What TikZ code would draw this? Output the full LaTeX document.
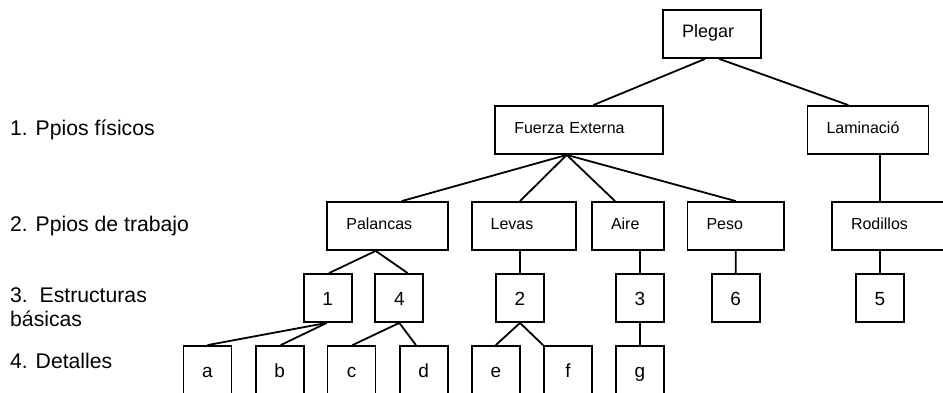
\documentclass[tikz,border=0pt]{standalone}
\usepackage{fontspec}
\setmainfont{Liberation Sans}
\usepackage{tikz}

\begin{document}
\begin{tikzpicture}[x=1pt,y=-1pt]
	\useasboundingbox (0,0) rectangle (943,392);
	\clip (0,0) rectangle (943,392);
	
	% levels on the left
	\begin{scope}[every node/.style={anchor=base west,inner sep=0pt,font=\fontsize{21.2}{23.5}\selectfont}]
		\node (nivel1) at (10,135) {1. Ppios físicos};
		\node (nivel2) at (10,231.7) {2. Ppios de trabajo};
		\node (nivel3) [anchor=north west,align=left] at (10,287.8) {3.\ \ Estructuras\\básicas};
		\node (nivel4) at (10,368.3) {4. Detalles};
	\end{scope}
	
	\begin{scope}[every node/.style={rectangle,draw,line width=1.8pt,minimum height=48pt,
			inner xsep=19pt,inner ysep=0pt,align=left,text height=11pt,text depth=5pt,
			font=\fontsize{16}{18}\selectfont}]
		\node (plegar) [text width=60pt,font=\fontsize{18}{20}\selectfont] at (712,34) {Plegar};
		\node (fuerza) [text width=130pt] at (579.3,130) {Fuerza Externa};
		\node (lamin) [text width=83pt] at (868,130) {Laminació};
		\node (palancas) [text width=82.7pt] at (387.7,226) {Palancas};
		\node (levas) [text width=66.3pt] at (523.8,226) {Levas};
		\node (aire) [text width=34pt] at (628,226) {Aire};
		\node (peso) [text width=58.5pt] at (735.8,226) {Peso};
		\node (rodillos) [text width=86pt] at (894,226) {Rodillos};
	\end{scope}
	
	\begin{scope}[every node/.style={rectangle,draw,line width=1.8pt,minimum width=48pt,
			minimum height=48pt,inner sep=0pt,text height=14pt,text depth=0pt,
			font=\fontsize{19}{21}\selectfont}]
		\node (e1) at (327.7,298) {1};
		\node (e4) at (399.3,298) {4};
		\node (e2) at (520,298) {2};
		\node (e3) at (640,298) {3};
		\node (e6) at (735.7,298) {6};
		\node (e5) at (880,298) {5};
		
		\node (da) at (207.5,370) {a};
		\node (db) at (279.7,370) {b};
		\node (dc) at (351.5,370) {c};
		\node (dd) at (423.7,370) {d};
		\node (de) at (495.8,370) {e};
		\node (df) at (568,370) {f};
		\node (dg) at (640,370) {g};
	\end{scope}
	
	\begin{scope}[every edge/.style={draw,line width=1.8pt}]
		\path ([xshift=-7pt]plegar.south) edge ([xshift=14pt]fuerza.north);
		\path ([xshift=7.3pt]plegar.south) edge ([xshift=-19.7pt]lamin.north);
		
		\path ([xshift=-12.6pt]fuerza.south) edge ([xshift=14pt]palancas.north);
		\path ([xshift=-12.6pt]fuerza.south) edge ([xshift=-3.8pt]levas.north);
		\path ([xshift=-12.6pt]fuerza.south) edge ([xshift=-13pt]aire.north);
		\path ([xshift=-12.6pt]fuerza.south) edge (peso.north);
		\path ([xshift=12pt]lamin.south) edge ([xshift=-14pt]rodillos.north);
		
		\path ([xshift=-12pt]palancas.south) edge ([xshift=1.3pt]e1.north);
		\path ([xshift=-12pt]palancas.south) edge ([xshift=8.4pt]e4.north);
		\path ([xshift=-3.8pt]levas.south) edge (e2.north);
		\path ([xshift=12pt]aire.south) edge (e3.north);
		\path (peso.south) edge (e6.north);
		\path ([xshift=-14pt]rodillos.south) edge (e5.north);
		
		\path ([xshift=-1pt]e1.south) edge (da.north);%a%
		\path ([xshift=-1pt]e1.south) edge ([xshift=1pt]db.north);%b%
		\path (e4.south) edge ([xshift=1pt]dc.north);%c%
		\path (e4.south) edge ([xshift=-7.7pt]dd.north);%d%
		\path (e2.south) edge (de.north);%e%
		\path (e2.south) edge (df.north west);%f%
		\path (e3.south) edge (dg.north);%g%
	\end{scope}
\end{tikzpicture}
\end{document}
